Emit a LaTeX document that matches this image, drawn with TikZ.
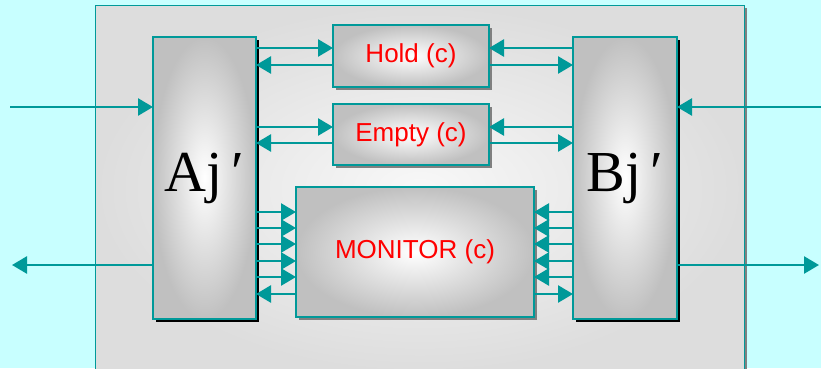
\documentclass[tikz,border=0pt]{standalone}
\usepackage{fontspec}
\setmainfont{Liberation Sans}
\newfontfamily\unitfont{Liberation Serif}
\usetikzlibrary{positioning,arrows.meta,shadows}
\definecolor{LinkTeal}{RGB}{0,153,153}
\definecolor{SkyBand}{RGB}{200,255,255}
\definecolor{BoxGray}{RGB}{192,192,192}
\definecolor{PanelGray}{RGB}{221,221,221}
\definecolor{PanelLight}{RGB}{248,248,248}

\begin{document}
\begin{tikzpicture}[x=1pt, y=-1pt,
    every node/.style={inner sep=0pt, outer sep=0pt},
    arr/.style={-{Triangle[length=15pt,width=17pt]}, LinkTeal, line width=2.6pt},
    unit/.style={draw=LinkTeal, line width=1.2pt, shading=radial, inner color=white,
      outer color=BoxGray, minimum width=103pt, minimum height=282pt,
      drop shadow={shadow xshift=3pt, shadow yshift=-3pt, fill=black, opacity=1},
      font=\unitfont\fontsize{58}{60}\selectfont},
    proc/.style={draw=LinkTeal, line width=1.2pt, shading=radial, inner color=white,
      outer color=BoxGray, text=red, font=\fontsize{26}{30}\selectfont,
      drop shadow={shadow xshift=3pt, shadow yshift=-3pt, fill=gray, opacity=1}}]
  \useasboundingbox (0,0) rectangle (821,368);
  \fill[SkyBand] (0,0) rectangle (821,368);
  \node[draw=LinkTeal, line width=1pt, shading=radial, inner color=PanelLight,
    outer color=PanelGray, minimum width=649pt, minimum height=367pt,
    drop shadow={shadow xshift=3pt, shadow yshift=-3pt, fill=gray, opacity=1}]
    (frame) at (419.5,188.5) {};
  \node[unit] (aj) at (204.5,178) {Aj\,′};
  \node[unit, right=317pt of aj, minimum width=104pt] (bj) {Bj\,′};
  \node[proc, minimum width=156pt, minimum height=62pt] (hold) at (411,56) {Hold (c)};
  \node[proc, below=17pt of hold, minimum width=156pt, minimum height=61pt] (empty)
    {Empty (c)};
  \node[proc, minimum width=238pt, minimum height=130pt] (mon) at (415,252)
    {MONITOR (c)};
  % Hold and Empty
  \draw[arr] (aj.east |- 0,48) -- (hold.west |- 0,48);
  \draw[arr] (hold.west |- 0,65) -- (aj.east |- 0,65);
  \draw[arr] (bj.west |- 0,48) -- (hold.east |- 0,48);
  \draw[arr] (hold.east |- 0,65) -- (bj.west |- 0,65);
  \draw[arr] (aj.east |- 0,127) -- (empty.west |- 0,127);
  \draw[arr] (empty.west |- 0,143) -- (aj.east |- 0,143);
  \draw[arr] (bj.west |- 0,127) -- (empty.east |- 0,127);
  \draw[arr] (empty.east |- 0,143) -- (bj.west |- 0,143);
  % MONITOR
  \foreach \y in {212,228,244,261,277} {
    \draw[arr] (aj.east |- 0,\y) -- (mon.west |- 0,\y);
    \draw[arr] (bj.west |- 0,\y) -- (mon.east |- 0,\y);
  }
  \draw[arr] (mon.west |- 0,294) -- (aj.east |- 0,294);
  \draw[arr] (mon.east |- 0,294) -- (bj.west |- 0,294);
  % outside
  \coordinate (inL) at (10,107);
  \coordinate (outL) at (12,265);
  \coordinate (inR) at (821,107);
  \coordinate (outR) at (819,265);
  \draw[arr] (inL) -- (aj.west |- inL);
  \draw[arr] (aj.west |- outL) -- (outL);
  \draw[arr] (inR) -- (bj.east |- inR);
  \draw[arr] (bj.east |- outR) -- (outR);
\end{tikzpicture}
\end{document}
